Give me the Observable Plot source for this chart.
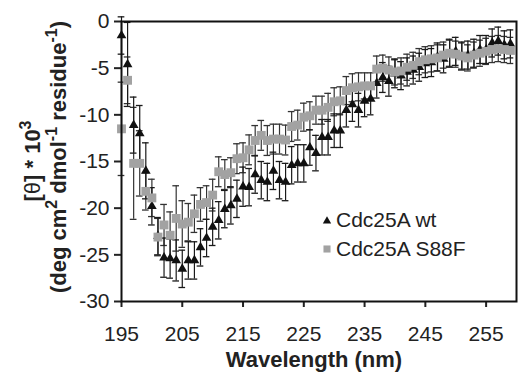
<!DOCTYPE html>
<html><head><meta charset="utf-8">
<script src="https://cdn.jsdelivr.net/npm/d3@7"></script>
<script src="https://cdn.jsdelivr.net/npm/@observablehq/plot@0.6"></script>
<style>
body{margin:0;background:#fff;}
#chart{width:518px;height:374px;}
</style></head><body><div id="chart"></div>
<script>
const wavelength = [195,196,197,198,199,200,201,202,203,204,205,206,207,208,209,210,211,212,213,214,215,216,217,218,219,220,221,222,223,224,225,226,227,228,229,230,231,232,233,234,235,236,237,238,239,240,241,242,243,244,245,246,247,248,249,250,251,252,253,254,255,256,257,258,259];
const wtValues = [-1.5,-4.6,-11.1,-12.0,-16.0,-19.8,-23.0,-25.3,-25.4,-25.6,-26.5,-25.6,-25.6,-24.2,-23.2,-22.0,-21.3,-20.1,-19.7,-19.0,-17.7,-17.75,-16.4,-17.0,-17.2,-16.0,-17.0,-17.2,-15.4,-15.2,-15.2,-13.5,-14.1,-12.4,-12.4,-11.7,-11.7,-9.5,-8.9,-9.5,-8.5,-8.3,-6.6,-6.0,-6.4,-5.6,-5.8,-5.4,-5.2,-4.9,-4.5,-4.4,-3.8,-4.0,-3.4,-3.2,-3.7,-3.6,-3.4,-3.0,-3.0,-2.3,-2.1,-2.5,-2.4];
const wtErrors = [2.0,4.5,3.0,3.0,3.0,2.0,2.0,2.1,2.1,2.2,2.0,2.0,2.0,2.0,2.0,2.0,2.0,2.0,2.0,2.0,2.1,2.0,2.0,2.0,2.0,2.0,2.0,2.0,2.0,2.0,2.0,1.9,1.9,1.9,1.9,1.8,1.8,1.8,1.8,1.8,1.7,1.7,1.6,1.6,1.6,1.5,1.5,1.5,1.5,1.5,1.5,1.5,1.5,1.5,1.5,1.5,1.5,1.5,1.5,1.5,1.5,1.5,1.5,1.5,1.5];
const s88fValues = [-11.5,-6.3,-15.2,-15.2,-18.2,-18.9,-23.1,-21.8,-22.9,-21.1,-21.7,-21.5,-20.6,-19.6,-19.4,-18.6,-16.1,-16.4,-16.2,-14.7,-14.6,-13.75,-12.75,-12.2,-12.75,-12.6,-12.6,-12.7,-11.25,-11.1,-10.25,-10.1,-9.5,-9.5,-9.2,-8.6,-8.5,-7.4,-7.1,-7.0,-6.9,-6.9,-5.1,-5.0,-5.2,-5.4,-5.3,-4.9,-4.7,-4.3,-4.1,-4.0,-3.9,-3.6,-3.4,-3.5,-3.7,-3.9,-3.6,-3.4,-3.2,-3.0,-2.9,-3.0,-3.1];
const s88fErrors = [5.0,2.5,6.0,3.5,2.0,2.0,2.0,2.2,2.5,3.5,2.5,2.0,2.0,1.8,1.8,1.7,1.6,1.6,1.6,1.6,1.6,1.6,1.6,1.6,1.6,1.6,1.6,1.6,1.6,1.6,1.5,1.5,1.5,1.5,1.5,1.5,1.5,1.5,1.5,1.5,1.4,1.4,1.4,1.4,1.4,1.4,1.4,1.4,1.4,1.4,1.4,1.4,1.4,1.4,1.4,1.4,1.4,1.4,1.4,1.4,1.4,1.4,1.4,1.4,1.4];
const seriesNames = ["Cdc25A wt", "Cdc25A S88F"];
const xTicks = [195,205,215,225,235,245,255];
const yTicks = [0,-5,-10,-15,-20,-25,-30];

const wtRows = wavelength.map((x,i) => ({x, y: wtValues[i], e: wtErrors[i]}));
const s88fRows = wavelength.map((x,i) => ({x, y: s88fValues[i], e: s88fErrors[i]}));

const font = "'Liberation Sans', Arial, Helvetica, sans-serif";
const capHalf = 0.55;
const errMarks = (rows, color) => [
  Plot.ruleX(rows, {x: "x", y1: d => d.y - d.e, y2: d => d.y + d.e, stroke: color, strokeWidth: 1.2}),
  Plot.ruleY(rows, {y: d => d.y + d.e, x1: d => d.x - capHalf, x2: d => d.x + capHalf, stroke: color, strokeWidth: 1.3}),
  Plot.ruleY(rows, {y: d => d.y - d.e, x1: d => d.x - capHalf, x2: d => d.x + capHalf, stroke: color, strokeWidth: 1.3})
];

const plot = Plot.plot({
  width: 518, height: 374,
  marginLeft: 121, marginRight: 2, marginTop: 21, marginBottom: 73,
  style: {fontFamily: font, fontSize: "21px", color: "#222", background: "#fff", overflow: "visible"},
  x: {domain: [195, 260]},
  y: {domain: [-30, 0]},
  marks: [
    Plot.axisX({ticks: xTicks, tickSize: 6, tickPadding: 19, strokeWidth: 2, label: null, tickFormat: d => String(d)}),
    Plot.axisY({ticks: yTicks, tickSize: 7, tickPadding: 5, strokeWidth: 2, label: null, tickFormat: d => String(d)}),
    ...errMarks(s88fRows, "#333"),
    ...errMarks(wtRows, "#1a1a1a"),
    Plot.dot(wtRows, {x: "x", y: "y", symbol: "triangle", r: 3.6, fill: "#111", stroke: "none"}),
    Plot.dot(s88fRows, {x: "x", y: "y", symbol: "square", r: 5.0, fill: "#a2a2a2", stroke: "none"}),
    Plot.frame({stroke: "#111", strokeWidth: 2})
  ]
});

const svg = d3.select(plot);
// y-axis title (two lines)
const t1 = svg.append("text").attr("transform", "translate(40,161) rotate(-90)")
  .attr("text-anchor", "middle").attr("font-family", font).attr("font-size", 22).attr("font-weight", "bold").attr("fill", "#222");
t1.append("tspan").text("[");
t1.append("tspan").attr("font-weight", "normal").text("θ");
t1.append("tspan").text("] * 10");
t1.append("tspan").attr("font-size", 16).attr("dy", "-0.55em").text("3");

const t2 = svg.append("text").attr("transform", "translate(66,157) rotate(-90)")
  .attr("text-anchor", "middle").attr("font-family", font).attr("font-size", 22).attr("font-weight", "bold").attr("fill", "#222");
t2.append("tspan").text("(deg cm");
t2.append("tspan").attr("font-size", 16).attr("dy", -9).text("2");
t2.append("tspan").attr("dy", 9).text(" dmol");
t2.append("tspan").attr("font-size", 16).attr("dy", -9).text("-1");
t2.append("tspan").attr("dy", 9).text(" residue");
t2.append("tspan").attr("font-size", 16).attr("dy", -9).text("-1");
t2.append("tspan").attr("dy", 9).text(")");

// x-axis title
svg.append("text").attr("x", 314).attr("y", 367).attr("text-anchor", "middle")
  .attr("font-family", font).attr("font-size", 22).attr("font-weight", "bold").attr("fill", "#222")
  .text("Wavelength (nm)");

// legend
const lg = svg.append("g").attr("text-anchor", "start");
lg.append("path").attr("transform", "translate(327,221)").attr("d", d3.symbol(d3.symbolTriangle, 30)()).attr("fill", "#111");
lg.append("text").attr("x", 336).attr("y", 227).attr("text-anchor", "start").attr("font-family", font).attr("font-size", 21).attr("fill", "#222").text(seriesNames[0]);
lg.append("path").attr("transform", "translate(327,249)").attr("d", d3.symbol(d3.symbolSquare, 50)()).attr("fill", "#a2a2a2");
lg.append("text").attr("x", 336).attr("y", 256).attr("text-anchor", "start").attr("font-family", font).attr("font-size", 21).attr("fill", "#222").text(seriesNames[1]);

document.getElementById("chart").append(plot);
</script></body></html>
